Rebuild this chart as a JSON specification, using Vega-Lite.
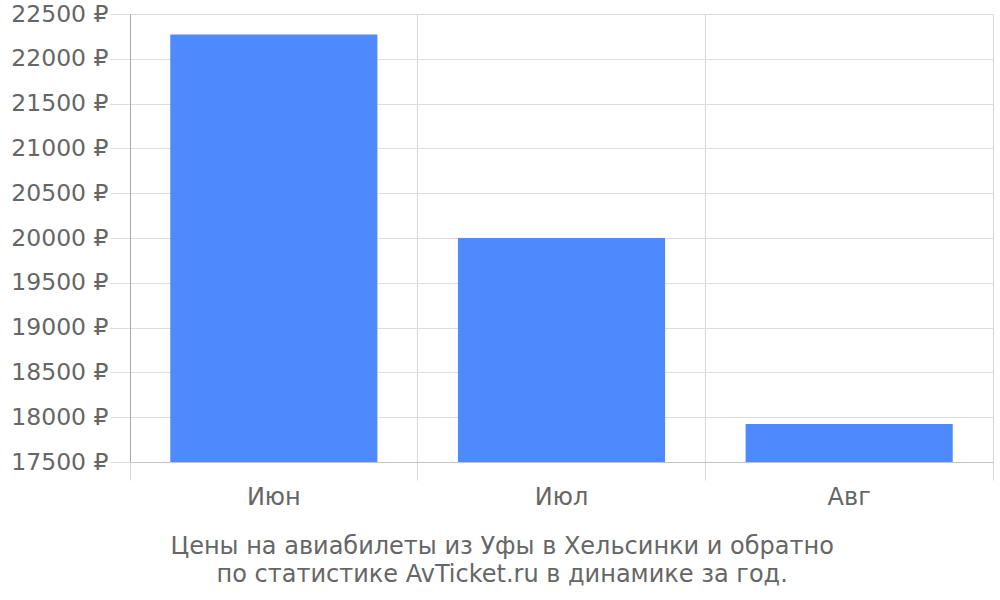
{
  "$schema": "https://vega.github.io/schema/vega-lite/v6.json",
  "width": 863,
  "height": 448,
  "autosize": {"type": "none"},
  "padding": {"left": 130, "top": 14, "right": 7, "bottom": 138},
  "background": "white",
  "data": {"values": [
    {"month": "Июн", "price": 22270},
    {"month": "Июл", "price": 20000},
    {"month": "Авг", "price": 17925}
  ]},
  "title": {
    "text": ["Цены на авиабилеты из Уфы в Хельсинки и обратно", "по статистике AvTicket.ru в динамике за год."],
    "orient": "bottom",
    "anchor": "middle",
    "frame": "bounds",
    "font": "DejaVu Sans",
    "fontSize": 24,
    "fontWeight": "normal",
    "color": "#666666",
    "offset": 26,
    "lineHeight": 28
  },
  "mark": {"type": "bar", "color": "#4E8AFB", "clip": true, "width": {"band": 0.72}},
  "encoding": {
    "x": {
      "field": "month",
      "type": "nominal",
      "sort": null,
      "scale": {"paddingInner": 0, "paddingOuter": 0},
      "axis": {
        "title": null,
        "bandPosition": 1,
        "tickExtra": true,
        "grid": true,
        "gridColor": "#d6d6d6",
        "tickColor": "#d6d6d6",
        "tickSize": 18,
        "domainColor": "#c4c4c4",
        "labelFont": "DejaVu Sans",
        "labelFontSize": 24,
        "labelColor": "#666666",
        "labelPadding": 5,
        "labelAngle": 0
      }
    },
    "y": {
      "field": "price",
      "type": "quantitative",
      "scale": {"domain": [17500, 22500], "nice": false, "zero": false},
      "axis": {
        "title": null,
        "values": [17500, 18000, 18500, 19000, 19500, 20000, 20500, 21000, 21500, 22000, 22500],
        "format": "d",
        "labelExpr": "datum.label + ' ₽'",
        "grid": true,
        "gridColor": "#dddddd",
        "tickColor": "#dddddd",
        "tickSize": 20,
        "domainColor": "#aaaaaa",
        "labelFont": "DejaVu Sans",
        "labelFontSize": 23.5,
        "labelColor": "#666666",
        "labelPadding": 2
      }
    }
  },
  "config": {"view": {"stroke": null}}
}
